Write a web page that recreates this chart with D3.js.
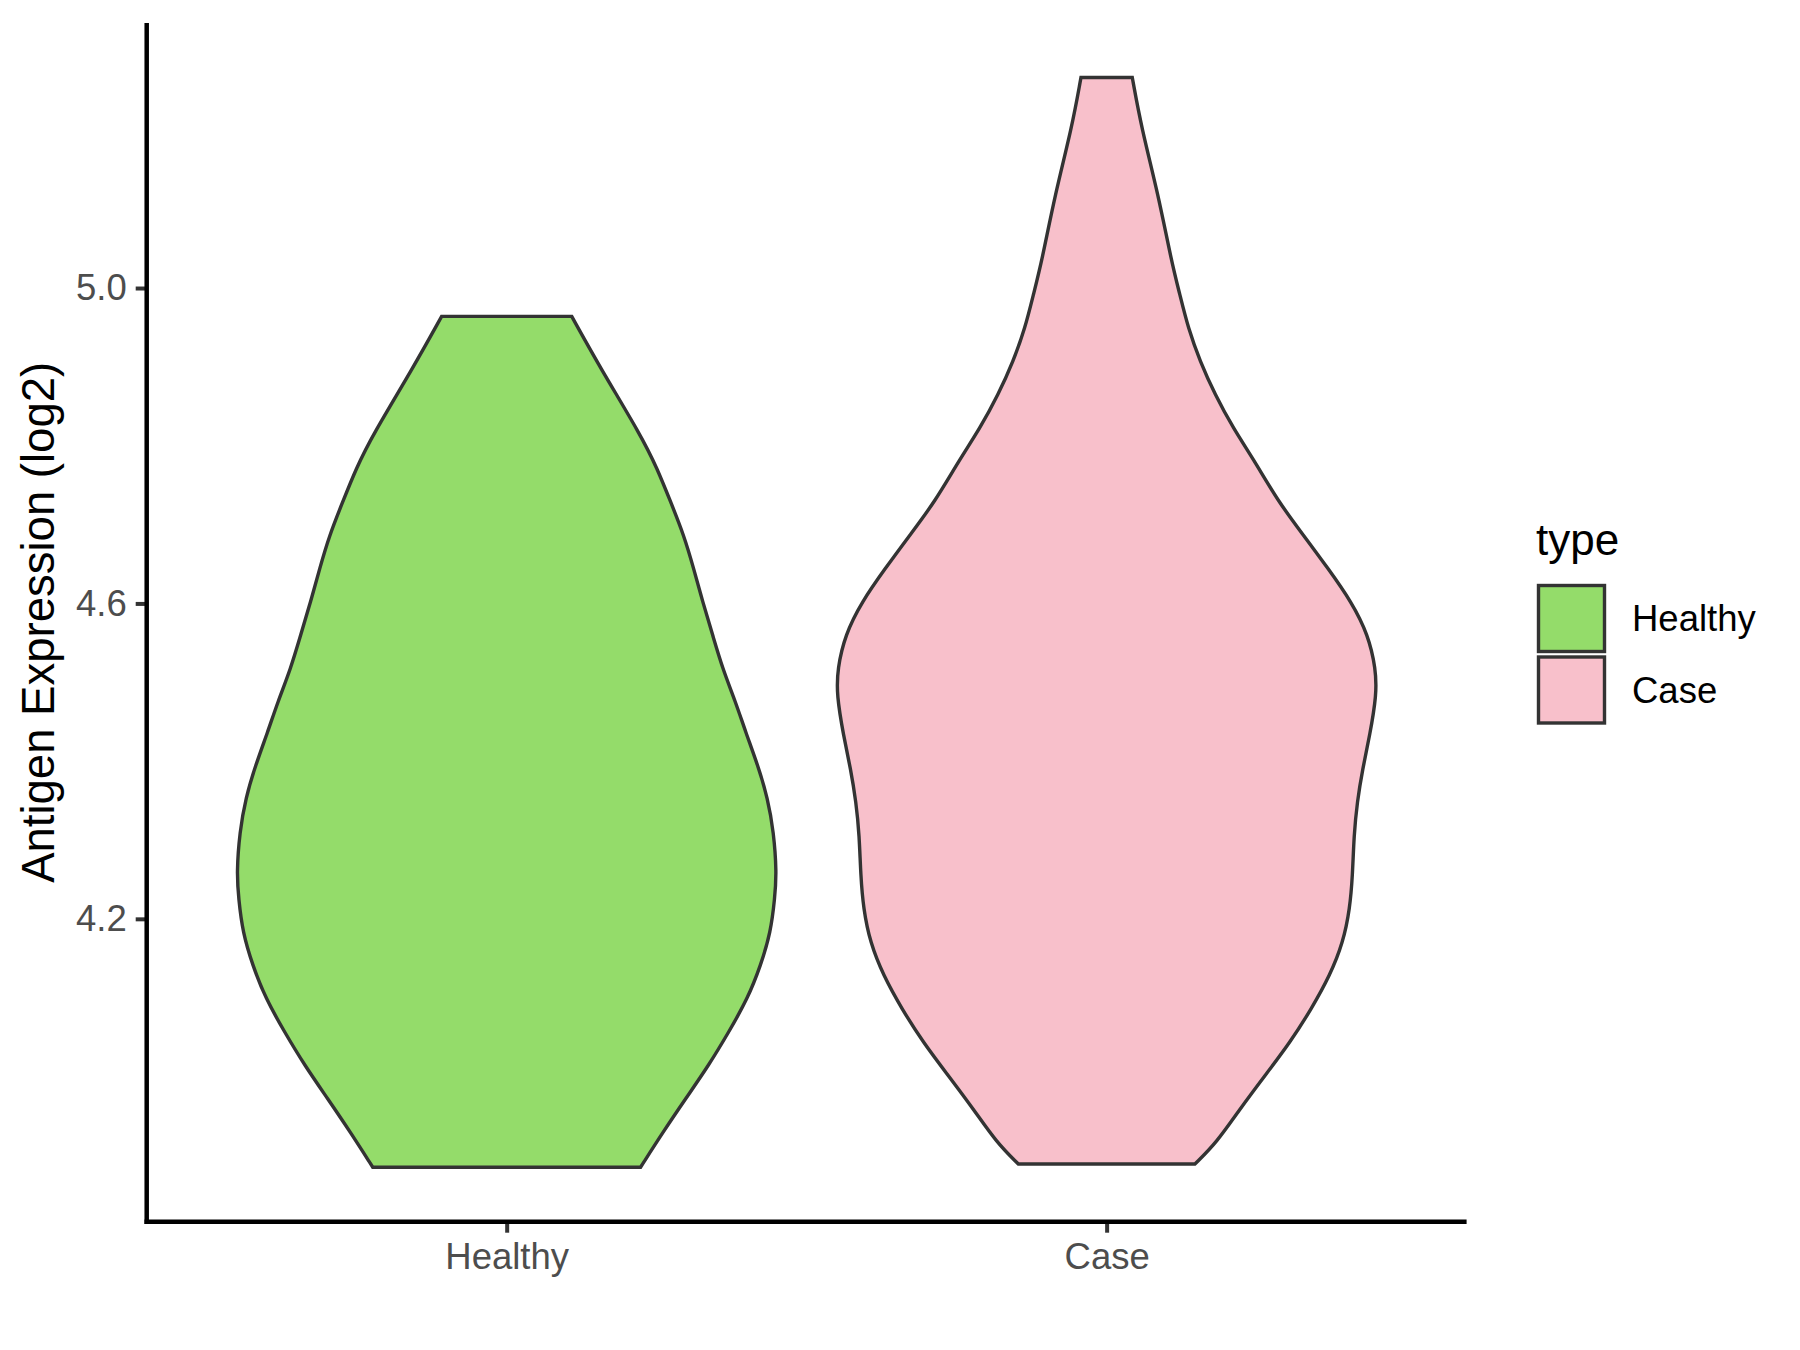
<!DOCTYPE html>
<html>
<head>
<meta charset="utf-8">
<script src="https://cdn.jsdelivr.net/npm/d3@7"></script>
<style>
  html, body { margin: 0; padding: 0; background: #fff; }
  svg { display: block; }
  text { font-family: "Liberation Sans", Arial, sans-serif; }
</style>
</head>
<body>
<svg id="chart" width="1800" height="1350"></svg>
<script>
// ---- Data ----
const categories = ["Healthy", "Case"];
const fillColors = ["#94DC6A", "#F8C0CB"];
const yTicks = [4.2, 4.6, 5.0];
const yTickLabels = ["4.2", "4.6", "5.0"];

// Violin outline: expression value and relative half-width (density scaled to max = 1)
const healthyValues = [4.964, 4.898, 4.814, 4.771, 4.729, 4.687, 4.644, 4.602, 4.560, 4.517, 4.475, 4.437, 4.395, 4.353, 4.310, 4.259, 4.226, 4.183, 4.141, 4.099, 4.056, 4.014, 3.972, 3.929, 3.885];
const healthyWidths = [0.241, 0.348, 0.496, 0.558, 0.607, 0.656, 0.693, 0.726, 0.763, 0.800, 0.848, 0.885, 0.930, 0.967, 0.989, 1.000, 0.993, 0.978, 0.941, 0.893, 0.822, 0.748, 0.663, 0.578, 0.496];

const caseValues = [5.267, 5.203, 5.119, 5.034, 4.992, 4.949, 4.907, 4.865, 4.822, 4.780, 4.729, 4.687, 4.644, 4.602, 4.560, 4.517, 4.484, 4.433, 4.390, 4.348, 4.306, 4.255, 4.213, 4.170, 4.128, 4.086, 4.043, 4.001, 3.959, 3.916, 3.889];
const caseWidths = [0.095, 0.129, 0.191, 0.240, 0.271, 0.302, 0.346, 0.401, 0.469, 0.549, 0.636, 0.728, 0.821, 0.907, 0.969, 0.997, 1.000, 0.975, 0.948, 0.928, 0.916, 0.911, 0.901, 0.876, 0.827, 0.759, 0.679, 0.586, 0.494, 0.407, 0.327];

const violins = [
  { cat: "Healthy", values: healthyValues, widths: healthyWidths },
  { cat: "Case", values: caseValues, widths: caseWidths }
];

// ---- Layout ----
const panel = { left: 146.7, right: 1466.6, top: 23, bottom: 1221.7 };
const svg = d3.select("#chart");

const allVals = healthyValues.concat(caseValues);
const vmin = d3.min(allVals), vmax = d3.max(allVals);
const pad = (vmax - vmin) * 0.05;
const y = d3.scaleLinear().domain([vmin - pad, vmax + pad]).range([panel.bottom, panel.top]);
const x = d3.scalePoint().domain(categories).range([panel.left, panel.right]).padding(0.6);
const color = d3.scaleOrdinal().domain(categories).range(fillColors);
const halfMax = x.step() * 0.45;

// ---- Violins ----
violins.forEach(v => {
  const cx = x(v.cat);
  const pts = v.values.map((val, i) => ({ val, w: v.widths[i] }));
  const area = d3.area()
    .y(d => y(d.val))
    .x0(d => cx - d.w * halfMax)
    .x1(d => cx + d.w * halfMax)
    .curve(d3.curveBasis);
  svg.append("path")
    .attr("d", area(pts))
    .attr("fill", color(v.cat))
    .attr("stroke", "#333333")
    .attr("stroke-width", 3.4)
    .attr("stroke-linejoin", "miter");
});

// ---- Axes ----
const yAxis = d3.axisLeft(y).tickValues(yTicks).tickFormat((d, i) => yTickLabels[i]).tickSize(11).tickPadding(9);
const gy = svg.append("g").attr("transform", `translate(${panel.left},0)`).call(yAxis);
gy.select(".domain").remove();
gy.selectAll(".tick line").attr("stroke", "#333333").attr("stroke-width", 4);
gy.selectAll(".tick text").attr("fill", "#4D4D4D").style("font-size", "36.5px")
  .style("font-family", "'Liberation Sans', Arial, sans-serif");

const xAxis = d3.axisBottom(x).tickSize(11).tickPadding(10);
const gx = svg.append("g").attr("transform", `translate(0,${panel.bottom})`).call(xAxis);
gx.select(".domain").remove();
gx.selectAll(".tick line").attr("stroke", "#333333").attr("stroke-width", 4);
gx.selectAll(".tick text").attr("fill", "#4D4D4D").style("font-size", "36.5px")
  .style("font-family", "'Liberation Sans', Arial, sans-serif");

// axis lines
svg.append("line").attr("x1", panel.left).attr("x2", panel.left)
  .attr("y1", panel.top).attr("y2", panel.bottom + 2.2)
  .attr("stroke", "#000").attr("stroke-width", 4.5);
svg.append("line").attr("x1", panel.left - 2.2).attr("x2", panel.right)
  .attr("y1", panel.bottom).attr("y2", panel.bottom)
  .attr("stroke", "#000").attr("stroke-width", 4.5);

// y axis title
svg.append("text")
  .attr("transform", `translate(54,${(panel.top + panel.bottom) / 2}) rotate(-90)`)
  .attr("text-anchor", "middle")
  .style("font-size", "45.5px")
  .attr("fill", "#000")
  .text("Antigen Expression (log2)");

// ---- Legend ----
const lg = svg.append("g");
lg.append("text").attr("x", 1536).attr("y", 555).style("font-size", "44px").attr("fill", "#000").text("type");
const keyX = 1538.5, keyY0 = 585.5, keySize = 66, keyStep = 71.5;
categories.forEach((c, i) => {
  lg.append("rect")
    .attr("x", keyX).attr("y", keyY0 + i * keyStep)
    .attr("width", keySize).attr("height", keySize)
    .attr("fill", color(c)).attr("stroke", "#333333").attr("stroke-width", 3.4);
  lg.append("text")
    .attr("x", 1632).attr("y", keyY0 + i * keyStep + keySize / 2)
    .attr("dy", "0.35em")
    .style("font-size", "36.5px").attr("fill", "#000")
    .text(c);
});
</script>
</body>
</html>
